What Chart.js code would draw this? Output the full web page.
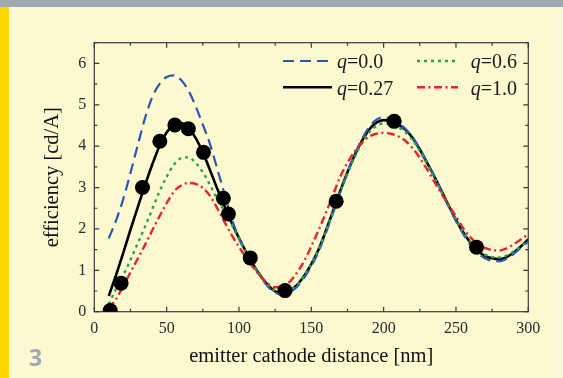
<!DOCTYPE html>
<html>
<head>
<meta charset="utf-8">
<script src="https://cdn.jsdelivr.net/npm/chart.js@4.4.1/dist/chart.umd.min.js"></script>
<style>
  html, body { margin: 0; padding: 0; }
  body {
    width: 563px; height: 378px; position: relative; overflow: hidden;
    background: #fcf8cf;
  }
  #barraSup { position: absolute; left: 0; top: 0; width: 563px; height: 7px; background: #a1a9ae; }
  #barraIzq { position: absolute; left: 0; top: 7px; width: 9px; height: 371px; background: #ffd600; }
  #franjaIzq { position: absolute; left: 9px; top: 7px; width: 14px; height: 371px;
    background: linear-gradient(to right, #fdfadb, #fcf8cf); }
  #franjaDer { position: absolute; left: 553px; top: 7px; width: 10px; height: 371px; background: #fdf9d8; }
  #numero { position: absolute; left: 29px; top: 346px; font: bold 23px "Open Sans"; line-height: 23px; color: #9ea7ad; }
  #lienzo { position: absolute; left: 0; top: 0; }
</style>
</head>
<body>
<div id="barraSup"></div>
<div id="barraIzq"></div>
<div id="franjaIzq"></div>
<div id="franjaDer"></div>
<canvas id="lienzo" width="563" height="378"></canvas>
<div id="numero">3</div>
<script>
"use strict";

// distancia emisor-cátodo [nm]
const distancia = [10, 15, 20, 25, 30, 35, 40, 45, 50, 55, 60, 65, 70, 75, 80, 85, 90, 95, 100,
  105, 110, 115, 120, 125, 130, 135, 140, 145, 150, 155, 160, 165, 170, 175, 180, 185, 190, 195,
  200, 205, 210, 215, 220, 225, 230, 235, 240, 245, 250, 255, 260, 265, 270, 275, 280, 285, 290,
  295, 300];

// eficiencia [cd/A] para cada q
const q00 = [1.77, 2.2, 2.72, 3.35, 4.02, 4.67, 5.18, 5.5, 5.67, 5.71, 5.6, 5.35, 4.97, 4.52, 4.05,
  3.45, 2.85, 2.25, 1.78, 1.42, 1.12, 0.84, 0.61, 0.46, 0.42, 0.47, 0.6, 0.82, 1.1, 1.45, 1.9, 2.38,
  2.88, 3.36, 3.8, 4.17, 4.46, 4.64, 4.7, 4.66, 4.55, 4.42, 4.21, 3.93, 3.61, 3.27, 2.91, 2.54, 2.19,
  1.88, 1.61, 1.42, 1.29, 1.23, 1.22, 1.28, 1.4, 1.55, 1.7];
const q027 = [0.38, 0.88, 1.42, 1.98, 2.52, 3.05, 3.55, 4.0, 4.33, 4.52, 4.56, 4.45, 4.2, 3.85, 3.42,
  2.97, 2.55, 2.15, 1.78, 1.44, 1.13, 0.86, 0.64, 0.49, 0.46, 0.52, 0.64, 0.86, 1.15, 1.5, 1.95, 2.43,
  2.92, 3.37, 3.78, 4.13, 4.4, 4.57, 4.63, 4.6, 4.52, 4.4, 4.2, 3.92, 3.6, 3.27, 2.92, 2.56, 2.22,
  1.92, 1.67, 1.48, 1.35, 1.29, 1.27, 1.32, 1.43, 1.58, 1.75];
const q06 = [0.18, 0.55, 0.88, 1.25, 1.65, 2.05, 2.47, 2.9, 3.26, 3.55, 3.71, 3.73, 3.6, 3.37, 3.06,
  2.72, 2.42, 2.1, 1.76, 1.43, 1.13, 0.86, 0.65, 0.5, 0.47, 0.52, 0.65, 0.87, 1.16, 1.51, 1.94, 2.41,
  2.89, 3.34, 3.74, 4.08, 4.33, 4.49, 4.55, 4.53, 4.46, 4.34, 4.15, 3.88, 3.57, 3.24, 2.9, 2.55, 2.22,
  1.93, 1.69, 1.51, 1.38, 1.32, 1.31, 1.36, 1.46, 1.59, 1.73];
const q10 = [0.08, 0.3, 0.62, 0.95, 1.28, 1.61, 1.96, 2.3, 2.62, 2.9, 3.05, 3.11, 3.09, 2.99, 2.8,
  2.5, 2.17, 1.85, 1.57, 1.3, 1.06, 0.85, 0.68, 0.59, 0.6, 0.72, 0.94, 1.22, 1.58, 1.97, 2.38, 2.82,
  3.26, 3.6, 3.87, 4.08, 4.23, 4.3, 4.32, 4.3, 4.24, 4.13, 3.95, 3.72, 3.44, 3.14, 2.85, 2.58, 2.3,
  2.02, 1.8, 1.64, 1.54, 1.49, 1.48, 1.53, 1.63, 1.75, 1.87];

// medidas (círculos negros)
const medidasX = [11, 18.5, 33.3, 45.3, 55.7, 65, 75.5, 89.2, 92.7, 107.8, 131.8, 167.2, 207.3, 264.2];
const medidasY = [0.03, 0.69, 3.0, 4.12, 4.51, 4.42, 3.85, 2.74, 2.36, 1.3, 0.51, 2.67, 4.6, 1.56];

const etiquetasX = [0, 50, 100, 150, 200, 250, 300];
const etiquetasY = [0, 1, 2, 3, 4, 5, 6];

const FUENTE = '"Liberation Serif", "Times New Roman", serif';
const AZUL = "#2f55b3";
const VERDE = "#27a54a";
const ROJO = "#e8232b";

const puntos = (ys) => distancia.map((d, i) => ({ x: d, y: ys[i] }));

// marco con marcas hacia dentro en los cuatro lados
const marco = {
  id: "marco",
  beforeDatasetsDraw(chart) {
    const { ctx, chartArea: a } = chart;
    const sx = chart.scales.x;
    const sy = chart.scales.y;
    ctx.save();
    ctx.strokeStyle = "#3a3a3a";
    ctx.lineWidth = 1.2;
    ctx.strokeRect(a.left, a.top, a.right - a.left, a.bottom - a.top);
    ctx.beginPath();
    for (let v = etiquetasX[0]; v <= etiquetasX[etiquetasX.length - 1]; v += 25) {
      const px = sx.getPixelForValue(v);
      const largo = v % 50 === 0 ? 5 : 3;
      ctx.moveTo(px, a.bottom); ctx.lineTo(px, a.bottom - largo);
      ctx.moveTo(px, a.top); ctx.lineTo(px, a.top + largo);
    }
    for (let v = etiquetasY[0]; v <= sy.max; v += 0.5) {
      const py = sy.getPixelForValue(v);
      const largo = v % 1 === 0 ? 5 : 3;
      ctx.moveTo(a.left, py); ctx.lineTo(a.left + largo, py);
      ctx.moveTo(a.right, py); ctx.lineTo(a.right - largo, py);
    }
    ctx.stroke();
    ctx.restore();
  },
};

// leyenda con la q en cursiva, dos columnas
const leyenda = {
  id: "leyenda",
  afterDraw(chart) {
    const { ctx, chartArea: a } = chart;
    const filas = [a.top + 18.3, a.top + 44.6];
    const columnas = [
      { x0: a.left + 188.7, x1: a.left + 237.7, tx: a.left + 242.7 },
      { x0: a.left + 322.7, x1: a.left + 363.7, tx: a.left + 376.4 },
    ];
    const orden = [[0, 0, 0], [2, 1, 0], [1, 0, 1], [3, 1, 1]];
    ctx.save();
    orden.forEach(([idx, c, f]) => {
      const ds = chart.data.datasets[idx];
      const col = columnas[c];
      const y = filas[f];
      ctx.beginPath();
      ctx.setLineDash(ds.borderDash || []);
      ctx.strokeStyle = ds.borderColor;
      ctx.lineWidth = ds.borderWidth;
      ctx.moveTo(col.x0, y);
      ctx.lineTo(col.x1, y);
      ctx.stroke();
      ctx.setLineDash([]);
      ctx.fillStyle = "#1a1a1a";
      ctx.textBaseline = "alphabetic";
      ctx.textAlign = "left";
      const [q, resto] = ds.label.split("=");
      ctx.font = "italic 20px " + FUENTE;
      ctx.fillText(q, col.tx, y + 7.3);
      const w = ctx.measureText(q).width;
      ctx.font = "20px " + FUENTE;
      ctx.fillText("=" + resto, col.tx + w, y + 7.3);
    });
    ctx.restore();
  },
};

const lienzo = document.getElementById("lienzo").getContext("2d");

const grafico = new Chart(lienzo, {
  type: "line",
  data: {
    datasets: [
      { label: "q=0.0", data: puntos(q00), borderColor: AZUL, borderWidth: 2.2,
        borderDash: [11, 6], order: 3 },
      { label: "q=0.27", data: puntos(q027), borderColor: "#000000", borderWidth: 2.6, order: 4 },
      { label: "q=0.6", data: puntos(q06), borderColor: VERDE, borderWidth: 2.4,
        borderDash: [3, 4], order: 2 },
      { label: "q=1.0", data: puntos(q10), borderColor: ROJO, borderWidth: 2.4,
        borderDash: [8, 3.5, 2, 3.5], order: 1 },
      { label: "medidas", data: medidasX.map((d, i) => ({ x: d, y: medidasY[i] })),
        showLine: false, pointRadius: 7.5, pointBackgroundColor: "#000000",
        pointBorderColor: "#000000", pointBorderWidth: 0, order: 0 },
    ],
  },
  options: {
    responsive: false,
    animation: false,
    devicePixelRatio: 1,
    layout: { padding: { left: 0, top: 42.7, right: 34.7, bottom: 0 } },
    elements: {
      line: { cubicInterpolationMode: "monotone", fill: false },
      point: { radius: 0, hoverRadius: 0 },
    },
    plugins: { legend: { display: false }, tooltip: { enabled: false } },
    scales: {
      x: {
        type: "linear", min: 0, max: 300,
        afterBuildTicks: (s) => { s.ticks = etiquetasX.map((v) => ({ value: v })); },
        afterFit: (s) => { s.height = 66.3; },
        grid: { display: false, drawTicks: false },
        border: { display: false },
        ticks: { font: { family: FUENTE, size: 16 }, color: "#2b2b2b", padding: 7, maxRotation: 0 },
        title: { display: true, text: "emitter cathode distance [nm]", color: "#111111",
          font: { family: FUENTE, size: 20.5 }, padding: { top: 0, bottom: 9.2 } },
      },
      y: {
        type: "linear", min: 0, max: 6.5,
        afterBuildTicks: (s) => { s.ticks = etiquetasY.map((v) => ({ value: v })); },
        afterFit: (s) => { s.width = 94.3; },
        grid: { display: false, drawTicks: false },
        border: { display: false },
        ticks: { font: { family: FUENTE, size: 16 }, color: "#2b2b2b", padding: 8 },
        title: { display: true, text: "efficiency [cd/A]", color: "#111111",
          font: { family: FUENTE, size: 20.5 }, padding: { top: 40.2, bottom: 0 } },
      },
    },
  },
  plugins: [marco, leyenda],
});
</script>
</body>
</html>
